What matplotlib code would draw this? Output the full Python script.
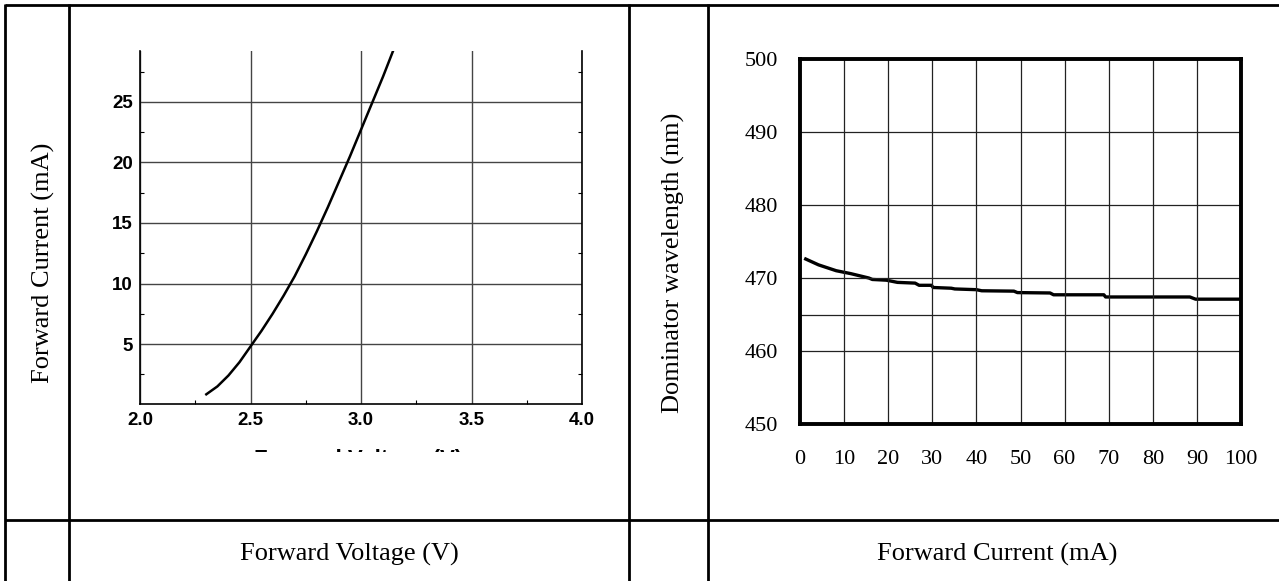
#!/usr/bin/env python
"""LED datasheet: forward current vs voltage, dominant wavelength vs current."""

import matplotlib

matplotlib.use("Agg")
import matplotlib.pyplot as plt
from matplotlib.lines import Line2D
from matplotlib.patches import Rectangle

# left chart: I-V curve
VOLTAGE = [2.30, 2.35, 2.40, 2.45, 2.50, 2.55, 2.60, 2.65, 2.70, 2.75,
           2.80, 2.85, 2.90, 2.95, 3.00, 3.05, 3.10, 3.145]
CURRENT = [0.85, 1.5, 2.4, 3.5, 4.8, 6.1, 7.5, 9.0, 10.6, 12.4,
           14.3, 16.3, 18.4, 20.5, 22.7, 24.9, 27.1, 29.2]
IV_XTICKS = [2.0, 2.5, 3.0, 3.5, 4.0]
IV_YTICKS = [5, 10, 15, 20, 25]

# right chart: dominant wavelength vs forward current (stepped trace)
IF_MA = [1.3, 4.2, 8.2, 11.5, 15.6, 16.4, 19.6, 22.1, 26.1, 27.0, 29.8,
         30.2, 34.3, 35.1, 40.0, 41.2, 48.5, 49.3, 56.7, 57.5, 68.9,
         69.3, 88.4, 89.7, 100.0]
WAVELENGTH = [472.6, 471.8, 471.0, 470.6, 470.0, 469.8, 469.7, 469.4,
              469.3, 469.0, 469.0, 468.7, 468.6, 468.5, 468.4, 468.25,
              468.2, 468.0, 467.95, 467.7, 467.7, 467.4, 467.4, 467.1, 467.1]
WL_XTICKS = list(range(0, 101, 10))
WL_YTICKS = [450, 460, 470, 480, 490, 500]
WL_YGRID = [460, 465, 470, 480, 490]

W, H = 1279, 581
SERIF = "Liberation Serif"
SANS = "Liberation Sans"


def px_rect(x0, y0, x1, y1):
    return [x0 / W, 1 - y1 / H, (x1 - x0) / W, (y1 - y0) / H]


def fig_line(fig, xs, ys, lw=2.0):
    fig.add_artist(Line2D([x / W for x in xs], [1 - y / H for y in ys],
                          transform=fig.transFigure, color="black", lw=lw,
                          solid_capstyle="butt", zorder=20))


def draw_table(fig):
    fig_line(fig, [5, W], [5, 5])
    fig_line(fig, [5, W], [520, 520])
    for x in (5, 69, 629, 708):
        fig_line(fig, [x, x], [4, H])


def draw_iv(fig):
    ax = fig.add_axes(px_rect(140, 51, 582, 404))
    ax.plot(VOLTAGE, CURRENT, color="black", lw=1.8)
    ax.set_xlim(2.0, 4.0)
    ax.set_ylim(0.05, 29.2)
    ax.set_xticks(IV_XTICKS)
    ax.set_xticklabels([f"{v:.1f}" for v in IV_XTICKS])
    ax.set_yticks(IV_YTICKS)
    ax.set_xticks([2.25, 2.75, 3.25, 3.75], minor=True)
    ax.set_yticks([2.5, 7.5, 12.5, 17.5, 22.5, 27.5], minor=True)
    ax.grid(True, which="major", color="#444444", lw=1.0)
    ax.spines["top"].set_visible(False)
    for side in ("left", "bottom", "right"):
        ax.spines[side].set_linewidth(1.2)
    ax.tick_params(which="major", length=0, pad=5)
    ax.tick_params(which="minor", direction="in", length=3, width=0.8,
                   right=True)
    for lab in ax.get_xticklabels() + ax.get_yticklabels():
        lab.set_fontfamily(SANS)
        lab.set_fontweight("bold")
        lab.set_fontsize(13.5)
    ax.tick_params(axis="x", pad=6)

    # axis title cut off by the cell below: only its top sliver shows
    fig.text(358 / W, 1 - 449 / H, "Forward Voltage (V)", ha="center",
             va="top", family=SANS, weight="bold", fontsize=16, zorder=3)
    fig.add_artist(Rectangle((230 / W, 1 - 515 / H), 260 / W, 63.5 / H,
                             transform=fig.transFigure, facecolor="white",
                             edgecolor="none", zorder=10))


def draw_wavelength(fig):
    ax = fig.add_axes(px_rect(800, 59, 1241, 424))
    ax.plot(IF_MA, WAVELENGTH, color="black", lw=2.4)
    ax.set_xlim(0, 100)
    ax.set_ylim(450, 500)
    ax.set_xticks(WL_XTICKS)
    ax.set_yticks(WL_YTICKS)
    for x in WL_XTICKS[1:-1]:
        ax.axvline(x, color="#222222", lw=0.9)
    for y in WL_YGRID:
        ax.axhline(y, color="#222222", lw=0.9)
    for spine in ax.spines.values():
        spine.set_linewidth(2.8)
    ax.tick_params(length=0)
    ax.tick_params(axis="x", pad=19)
    ax.tick_params(axis="y", pad=16)
    for lab in ax.get_xticklabels() + ax.get_yticklabels():
        lab.set_fontfamily(SERIF)
        lab.set_fontsize(16)


def main():
    fig = plt.figure(figsize=(W / 100, H / 100), dpi=100)
    draw_table(fig)
    draw_iv(fig)
    draw_wavelength(fig)

    fig.text(43 / W, 1 - 263 / H, "Forward Current (mA)", rotation=90,
             ha="center", va="center", family=SERIF, fontsize=19)
    fig.text(673 / W, 1 - 263 / H, "Dominator wavelength (nm)", rotation=90,
             ha="center", va="center", family=SERIF, fontsize=19)
    fig.text(349 / W, 1 - 554 / H, "Forward Voltage (V)", ha="center",
             va="center", family=SERIF, fontsize=19)
    fig.text(997 / W, 1 - 554 / H, "Forward Current (mA)", ha="center",
             va="center", family=SERIF, fontsize=19)

    fig.savefig("out.png", dpi=100)
    plt.close(fig)


if __name__ == "__main__":
    main()
